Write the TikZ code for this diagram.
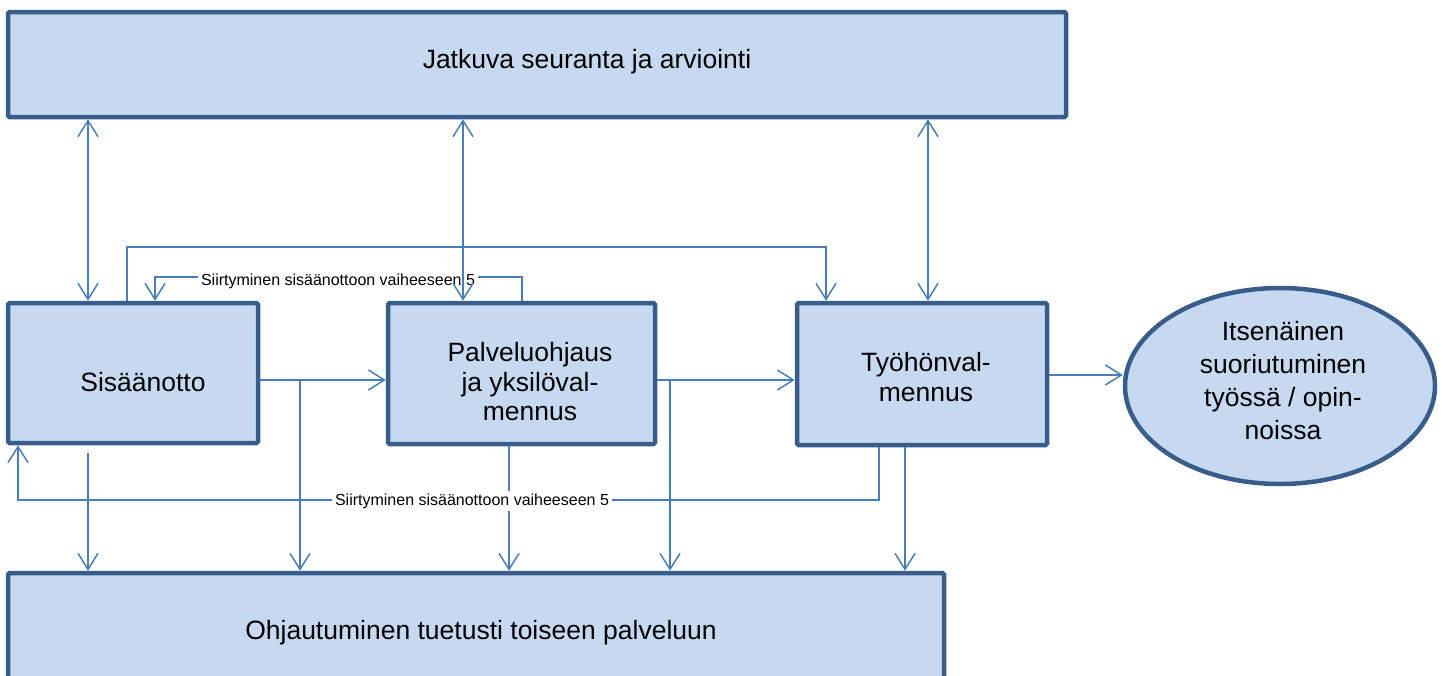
\documentclass[tikz,border=0pt]{standalone}
\usepackage{fontspec}
\setmainfont{Liberation Sans}
\usetikzlibrary{arrows.meta,shapes.geometric}
\definecolor{bdr}{HTML}{385D8A}
\definecolor{fillc}{HTML}{C6D9F1}
\definecolor{arr}{HTML}{4A7EBB}
\begin{document}
\begin{tikzpicture}[x=1pt,y=-1pt,
  box/.style={draw=bdr,fill=fillc,line width=4.5pt,rounded corners=1.5pt,inner sep=0pt},
  oval/.style={ellipse,draw=bdr,fill=fillc,line width=4.5pt,inner sep=0pt},
  big/.style={font=\fontsize{26.5}{29.5}\selectfont,align=center,inner sep=0pt},
  small/.style={font=\fontsize{16}{19}\selectfont,fill=white,inner sep=3pt},
  conn/.style={draw=arr,line width=1.5pt},
  tip/.style={-{Straight Barb[length=16pt,width=20pt,line width=1.5pt]}},
  dtip/.style={{Straight Barb[length=16pt,width=20pt,line width=1.5pt]}-{Straight Barb[length=16pt,width=20pt,line width=1.5pt]}}]
\useasboundingbox (0,0) rectangle (1443,675);
\clip (0,0) rectangle (1443,675);
% shapes
\node[box,minimum width=1058,minimum height=105] (top) at (537,64.5) {};
\node[box,minimum width=250,minimum height=140] (sis) at (133,373) {};
\node[box,minimum width=267,minimum height=141] (pal) at (521.5,373.5) {};
\node[box,minimum width=250,minimum height=142] (tyo) at (922,374) {};
\node[box,minimum width=936,minimum height=147] (bot) at (476,646.5) {};
\node[oval,minimum width=310,minimum height=196] (ell) at (1280,386) {};
% texts
\node[big] (ttop) at (587,62) {Jatkuva seuranta ja arviointi};
\node[big] (tsis) at (143,382) {Sisäänotto};
\node[big] (tpal) at (530,382) {Palveluohjaus\\ja yksilöval-\\mennus};
\node[big] (ttyo) at (926,377) {Työhönval-\\mennus};
\node[big] (tbot) at (481,633) {Ohjautuminen tuetusti toiseen palveluun};
\node[big,font=\fontsize{26.5}{33}\selectfont] (tell) at (1283,381) {Itsenäinen\\suoriutuminen\\työssä / opin-\\noissa};
% upper feedback: pal -> sis
\coordinate (u1) at (522,277);
\coordinate (u2) at (155,277);
\draw[conn,tip] (pal.north -| u1) -- (u1) -- (u2) -- (sis.north -| u2);
\node[small] (lab1) at (338,281) {Siirtyminen sisäänottoon vaiheeseen 5};
% sis -> tyo over the top
\coordinate (o1) at (127,247);
\coordinate (o2) at (826,247);
\draw[conn,tip] (sis.north -| o1) -- (o1) -- (o2) -- (tyo.north -| o2);
% double arrows with top
\draw[conn,dtip] (top.south -| 88,0) -- (sis.north -| 88,0);
\draw[conn,dtip] (top.south -| 463,0) -- (pal.north -| 463,0);
\draw[conn,dtip] (top.south -| 928,0) -- (tyo.north -| 928,0);
% horizontal flow
\draw[conn,tip] (sis.east |- 0,380) -- (pal.west |- 0,380);
\draw[conn,tip] (pal.east |- 0,380) -- (tyo.west |- 0,380);
\draw[conn,tip] (tyo.east |- 0,375) -- (ell.west |- 0,375);
% branches down
\coordinate (b1) at (300,380);
\coordinate (b2) at (670,380);
\draw[conn,tip] (b1) -- (bot.north -| b1);
\draw[conn,tip] (b2) -- (bot.north -| b2);
% lower feedback: tyo -> sis
\coordinate (l1) at (879,500);
\coordinate (l2) at (18,500);
\draw[conn,tip] (tyo.south -| l1) -- (l1) -- (l2) -- (sis.south -| l2);
% down arrows
\coordinate (s1) at (88,453);
\draw[conn,tip] (s1) -- (bot.north -| s1);
\draw[conn,tip] (pal.south -| 509,0) -- (bot.north -| 509,0);
\draw[conn,tip] (tyo.south -| 905,0) -- (bot.north -| 905,0);
\node[small] (lab2) at (472,501) {Siirtyminen sisäänottoon vaiheeseen 5};
\end{tikzpicture}
\end{document}
